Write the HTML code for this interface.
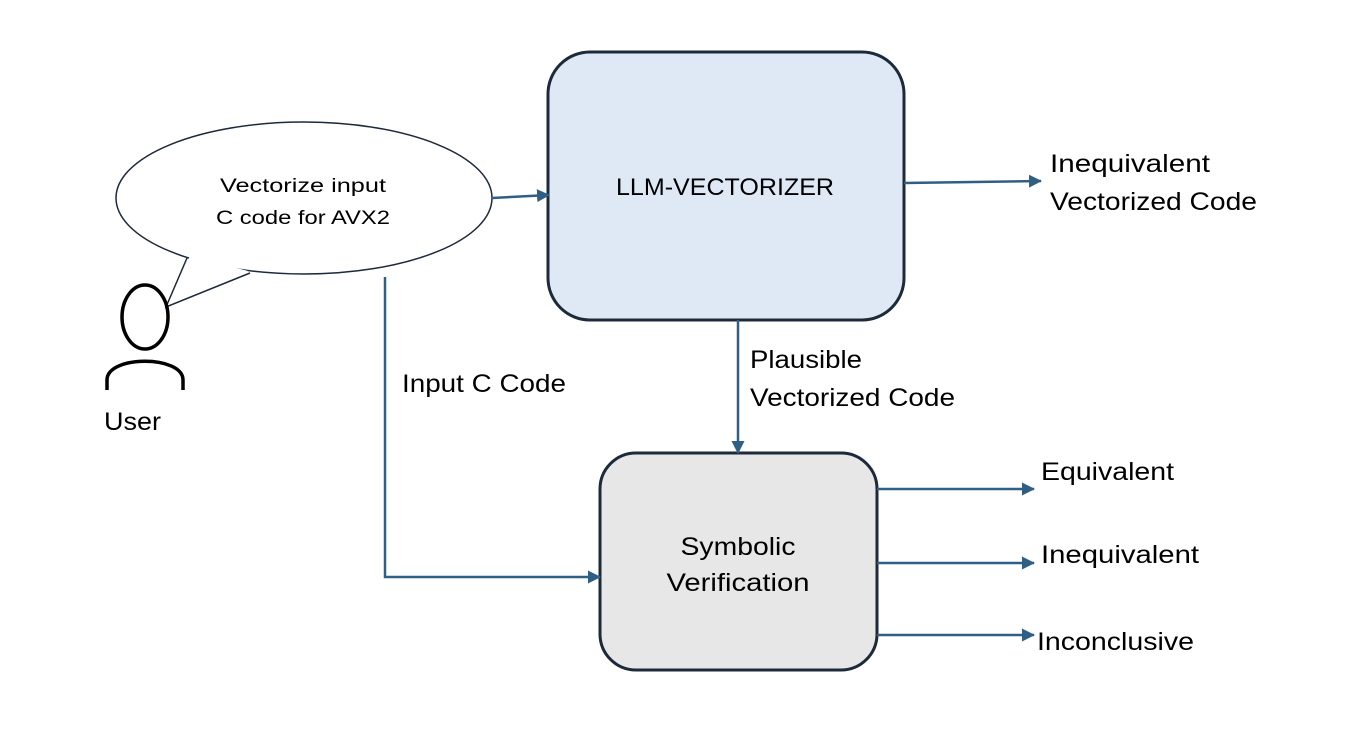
<!DOCTYPE html>
<html><head><style>html,body{margin:0;padding:0;background:#fff;}svg{display:block;}</style></head>
<body>
<svg width="1362" height="744" viewBox="0 0 1362 744" xmlns="http://www.w3.org/2000/svg" font-family="Liberation Sans, sans-serif" fill="#000">
<defs>
<marker id="a" markerWidth="14" markerHeight="14" refX="12" refY="6.5" orient="auto" markerUnits="userSpaceOnUse">
<path d="M0,0 L13,6.5 L0,13 Z" fill="#2f5f85"/>
</marker>
</defs>
<ellipse cx="304" cy="198" rx="188" ry="76" fill="#fff" stroke="#1c2a3a" stroke-width="1.5"/>
<path d="M190,256 L168,303 L248,271" fill="#fff" stroke="none"/>
<path d="M187,258 L166,307 L250,273" fill="none" stroke="#1c2a3a" stroke-width="1.5"/>
<text x="303" y="192" font-size="19" text-anchor="middle" textLength="166" lengthAdjust="spacingAndGlyphs">Vectorize input</text>
<text x="303" y="224" font-size="19" text-anchor="middle" textLength="174" lengthAdjust="spacingAndGlyphs">C code for AVX2</text>
<ellipse cx="145" cy="317" rx="23" ry="32" fill="none" stroke="#000" stroke-width="3.5"/>
<path d="M107,390 L107,380 C107,355 183,355 183,380 L183,390" fill="none" stroke="#000" stroke-width="3.5"/>
<text x="104" y="430" font-size="25" textLength="57" lengthAdjust="spacingAndGlyphs">User</text>
<rect x="548" y="52" width="356" height="268" rx="42" fill="#dfe9f5" stroke="#1c2a3a" stroke-width="3"/>
<text x="725" y="195" font-size="24" text-anchor="middle" textLength="218" lengthAdjust="spacingAndGlyphs">LLM-VECTORIZER</text>
<rect x="600" y="453" width="277" height="217" rx="36" fill="#e7e7e7" stroke="#1c2a3a" stroke-width="3"/>
<text x="738" y="555" font-size="25" text-anchor="middle" textLength="115" lengthAdjust="spacingAndGlyphs">Symbolic</text>
<text x="738" y="591" font-size="25" text-anchor="middle" textLength="143" lengthAdjust="spacingAndGlyphs">Verification</text>
<g stroke="#2f5f85" stroke-width="2.5" fill="none">
<line x1="492" y1="198" x2="549" y2="195" marker-end="url(#a)"/>
<line x1="904" y1="183" x2="1041" y2="181" marker-end="url(#a)"/>
<line x1="738" y1="320" x2="738" y2="453" marker-end="url(#a)"/>
<polyline points="385,277 385,577 600,577" marker-end="url(#a)"/>
<line x1="877" y1="489" x2="1034" y2="489" marker-end="url(#a)"/>
<line x1="877" y1="563" x2="1034" y2="563" marker-end="url(#a)"/>
<line x1="877" y1="635" x2="1034" y2="635" marker-end="url(#a)"/>
</g>
<text x="1050" y="172" font-size="25" textLength="160" lengthAdjust="spacingAndGlyphs">Inequivalent</text>
<text x="1050" y="210" font-size="25" textLength="207" lengthAdjust="spacingAndGlyphs">Vectorized Code</text>
<text x="750" y="368" font-size="25" textLength="112" lengthAdjust="spacingAndGlyphs">Plausible</text>
<text x="750" y="406" font-size="25" textLength="205" lengthAdjust="spacingAndGlyphs">Vectorized Code</text>
<text x="402" y="392" font-size="25" textLength="164" lengthAdjust="spacingAndGlyphs">Input C Code</text>
<text x="1041" y="480" font-size="25" textLength="133" lengthAdjust="spacingAndGlyphs">Equivalent</text>
<text x="1041" y="563" font-size="25" textLength="158" lengthAdjust="spacingAndGlyphs">Inequivalent</text>
<text x="1037" y="650" font-size="25" textLength="157" lengthAdjust="spacingAndGlyphs">Inconclusive</text>
</svg>
</body></html>
